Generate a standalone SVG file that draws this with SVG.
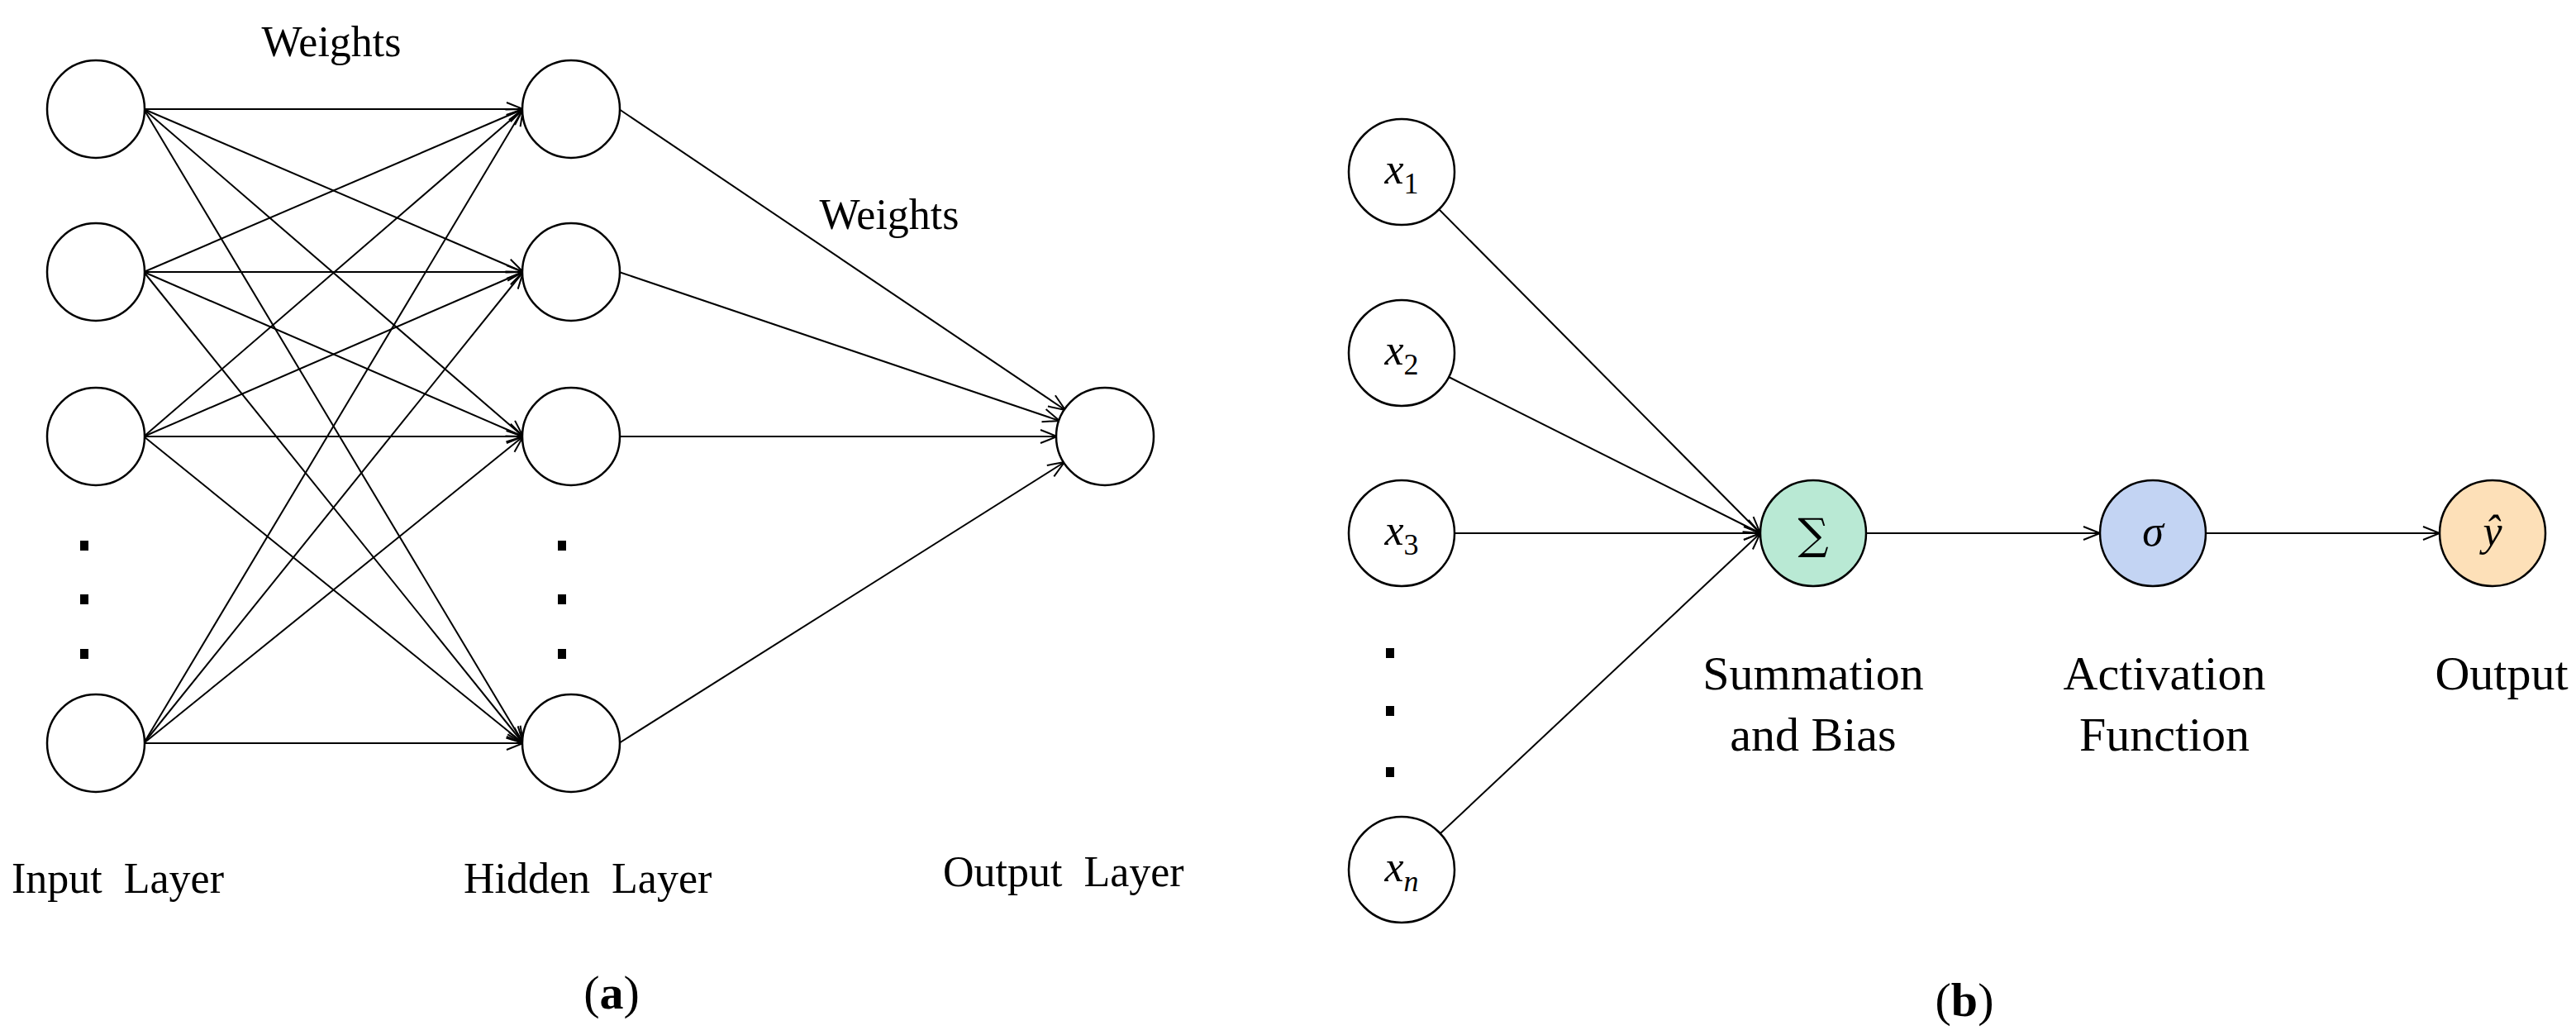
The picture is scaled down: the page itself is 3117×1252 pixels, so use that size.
<svg xmlns="http://www.w3.org/2000/svg" width="3117" height="1252" viewBox="0 0 3117 1252">
<style>
.n{fill:#fff;stroke:#000;stroke-width:2.5}
.e{stroke:#000;stroke-width:2;fill:none;marker-end:url(#a)}
.t{font-family:"Liberation Serif",serif;font-size:52px;fill:#000}
.tb{font-family:"Liberation Serif",serif;font-size:58px;fill:#000;text-anchor:middle}
.m{font-family:"Liberation Serif",serif;font-style:italic;font-size:52px;fill:#000;text-anchor:middle}
.d{fill:#000}
</style>
<defs><marker id="a" markerWidth="24" markerHeight="20" refX="22" refY="10" orient="auto" markerUnits="userSpaceOnUse"><path d="M2,2 L22,10 L2,18" fill="none" stroke="#000" stroke-width="2"/></marker></defs>
<g id="connectors">
<path class="e" d="M174,132L633,132"/><path class="e" d="M174,132L633,329"/><path class="e" d="M174,132L633,528"/><path class="e" d="M174,132L633,899"/>
<path class="e" d="M174,329L633,132"/><path class="e" d="M174,329L633,329"/><path class="e" d="M174,329L633,528"/><path class="e" d="M174,329L633,899"/>
<path class="e" d="M174,528L633,132"/><path class="e" d="M174,528L633,329"/><path class="e" d="M174,528L633,528"/><path class="e" d="M174,528L633,899"/>
<path class="e" d="M174,899L633,132"/><path class="e" d="M174,899L633,329"/><path class="e" d="M174,899L633,528"/><path class="e" d="M174,899L633,899"/>
<path class="e" d="M749,132L1289,496"/><path class="e" d="M749,329L1282,509"/><path class="e" d="M749,528L1279,528"/><path class="e" d="M749,899L1288,559"/>
<path class="e" d="M1741,253L2130,645"/><path class="e" d="M1753,456L2130,645"/><path class="e" d="M1760,645L2130,645"/><path class="e" d="M1743,1008L2130,645"/>
<path class="e" d="M2258,645L2541,645"/><path class="e" d="M2669,645L2952,645"/>
</g>
<g id="input"><circle class="n" cx="116" cy="132" r="59"/><circle class="n" cx="116" cy="329" r="59"/><circle class="n" cx="116" cy="528" r="59"/><circle class="n" cx="116" cy="899" r="59"/>
<rect class="d" x="97" y="654" width="10" height="12"/><rect class="d" x="97" y="719" width="10" height="12"/><rect class="d" x="97" y="785" width="10" height="12"/></g>
<g id="hidden"><circle class="n" cx="691" cy="132" r="59"/><circle class="n" cx="691" cy="329" r="59"/><circle class="n" cx="691" cy="528" r="59"/><circle class="n" cx="691" cy="899" r="59"/>
<rect class="d" x="675" y="654" width="10" height="12"/><rect class="d" x="675" y="719" width="10" height="12"/><rect class="d" x="675" y="785" width="10" height="12"/></g>
<g id="output"><circle class="n" cx="1337" cy="528" r="59"/></g>
<g id="labels-a">
<text class="t" x="401" y="68" text-anchor="middle">Weights</text>
<text class="t" x="1076" y="277" text-anchor="middle">Weights</text>
<text class="t" x="14" y="1080" xml:space="preserve">Input  Layer</text>
<text class="t" x="561" y="1080" xml:space="preserve">Hidden  Layer</text>
<text class="t" x="1141" y="1072" xml:space="preserve">Output  Layer</text>
<text class="tb" x="740" y="1220">(<tspan font-weight="bold">a</tspan>)</text>
</g>
<g id="xs">
<circle class="n" cx="1696" cy="208" r="64"/><text class="m" x="1696" y="222">x<tspan font-style="normal" font-size="36" dy="12">1</tspan></text>
<circle class="n" cx="1696" cy="427" r="64"/><text class="m" x="1696" y="441">x<tspan font-style="normal" font-size="36" dy="12">2</tspan></text>
<circle class="n" cx="1696" cy="645" r="64"/><text class="m" x="1696" y="659">x<tspan font-style="normal" font-size="36" dy="12">3</tspan></text>
<circle class="n" cx="1696" cy="1052" r="64"/><text class="m" x="1696" y="1066">x<tspan font-size="36" dy="12">n</tspan></text>
<rect class="d" x="1677" y="784" width="10" height="12"/><rect class="d" x="1677" y="854" width="10" height="12"/><rect class="d" x="1677" y="928" width="10" height="12"/>
</g>
<g id="sum"><circle class="n" cx="2194" cy="645" r="64" style="fill:#b9e9d4"/><text class="tb" x="2194" y="664" style="font-family:'DejaVu Serif',serif;font-size:52px">∑</text></g>
<g id="act"><circle class="n" cx="2605" cy="645" r="64" style="fill:#c3d4f3"/><text class="m" x="2605" y="660">σ</text></g>
<g id="out"><circle class="n" cx="3016" cy="645" r="64" style="fill:#fde0b8"/><text class="m" x="3016" y="660">ŷ</text></g>
<g id="labels-b">
<text class="tb" x="2194" y="834">Summation</text><text class="tb" x="2194" y="908">and Bias</text>
<text class="tb" x="2619" y="834">Activation</text><text class="tb" x="2619" y="908">Function</text>
<text class="tb" x="3027" y="834">Output</text>
<text class="tb" x="2377" y="1229">(<tspan font-weight="bold">b</tspan>)</text>
</g>
</svg>
